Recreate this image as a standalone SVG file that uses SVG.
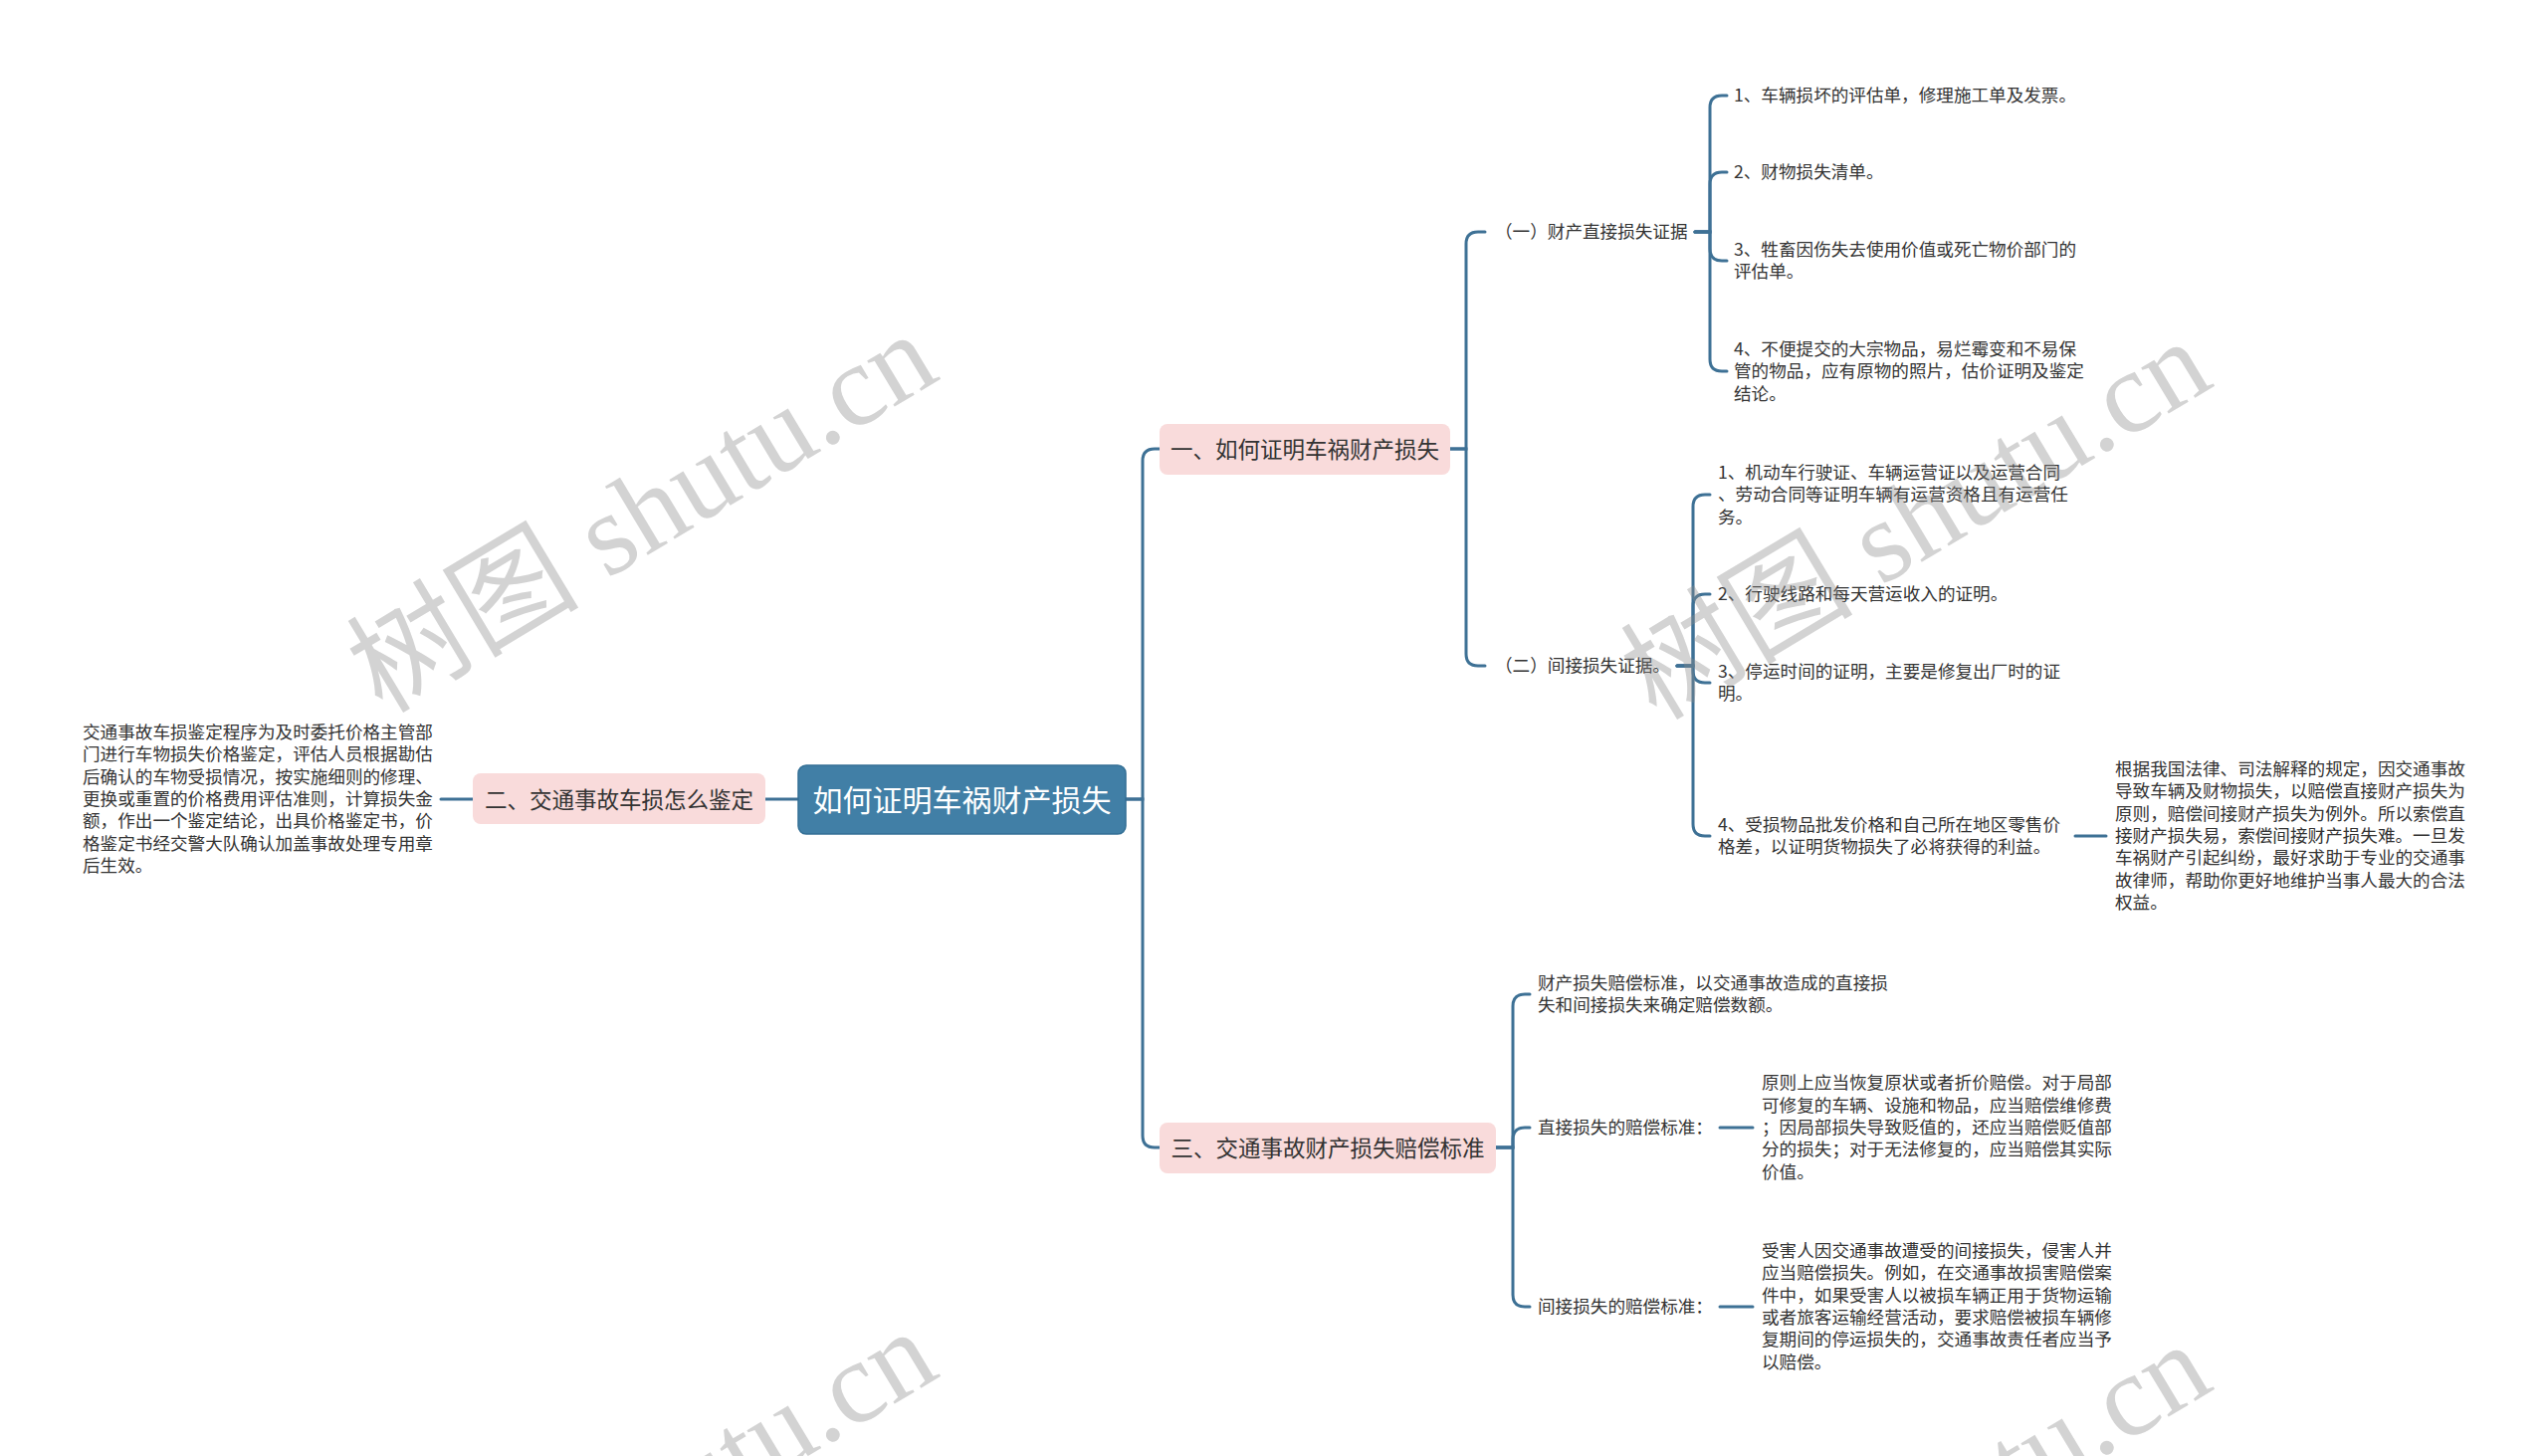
<svg xmlns="http://www.w3.org/2000/svg" width="2560" height="1463" viewBox="0 0 2560 1463">
<style>
text{font-family:"Noto Sans CJK SC","Liberation Sans",sans-serif;fill:#333;dominant-baseline:central}
.t{font-size:17.6px}
.l1{font-size:22.5px;text-anchor:middle}
.root{font-size:30px;fill:#fff;text-anchor:middle}
.pink{fill:#f9dbdb}
.conn path{fill:none;stroke:#3e7195;stroke-width:3;stroke-linecap:round}
.wm{font-family:"Liberation Serif","Noto Sans CJK SC",serif;font-size:117px;fill:#8c8c8c;fill-opacity:0.38;text-anchor:middle;dominant-baseline:central}
</style>
<rect width="2560" height="1463" fill="#fff"/>
<g class="conn" id="connectors">
<path d="M1131,803 H1148 V463 Q1148,451 1160,451 H1165"/>
<path d="M1131,803 H1148 V1141 Q1148,1153 1160,1153 H1165"/>
<path d="M802,803 H769"/>
<path d="M475,803 H443"/>
<path d="M1457,451 H1473 V245 Q1473,233 1485,233 H1492"/>
<path d="M1457,451 H1473 V657 Q1473,669 1485,669 H1492"/>
<path d="M1703,233 H1718 V108 Q1718,96 1730,96 H1735"/>
<path d="M1703,233 H1718 V185 Q1718,173 1730,173 H1735"/>
<path d="M1703,233 H1718 V250 Q1718,262 1730,262 H1735"/>
<path d="M1703,233 H1718 V361 Q1718,373 1730,373 H1735"/>
<path d="M1685,669 H1701 V509 Q1701,497 1713,497 H1718"/>
<path d="M1685,669 H1701 V609 Q1701,597 1713,597 H1718"/>
<path d="M1685,669 H1701 V674 Q1701,686 1713,686 H1718"/>
<path d="M1685,669 H1701 V828 Q1701,840 1713,840 H1718"/>
<path d="M2085,840 H2116"/>
<path d="M1503,1153 H1520 V1011 Q1520,999 1532,999 H1537"/>
<path d="M1503,1153 H1520 V1145 Q1520,1133 1532,1133 H1537"/>
<path d="M1503,1153 H1520 V1301 Q1520,1313 1532,1313 H1537"/>
<path d="M1728,1133 H1761"/>
<path d="M1728,1313 H1761"/>
</g>
<g id="root">
<rect x="802" y="769" width="329" height="69" rx="8" fill="#417fa6" stroke="#336f95" stroke-width="1.5"/>
<text class="root" x="966.5" y="802">如何证明车祸财产损失</text>
</g>
<g id="n1">
<rect class="pink" x="1165" y="426" width="292" height="51" rx="8"/>
<text class="l1" x="1311" y="450">一、如何证明车祸财产损失</text>
</g>
<g id="n2">
<rect class="pink" x="475" y="777" width="294" height="51" rx="8"/>
<text class="l1" x="622" y="802">二、交通事故车损怎么鉴定</text>
</g>
<g id="n3">
<rect class="pink" x="1165" y="1128" width="338" height="51" rx="8"/>
<text class="l1" x="1334" y="1152">三、交通事故财产损失赔偿标准</text>
</g>
<g transform="translate(0,-1.5)">
<g id="n2-text" class="t">
<text x="83" y="736">交通事故车损鉴定程序为及时委托价格主管部</text>
<text x="83" y="758">门进行车物损失价格鉴定，评估人员根据勘估</text>
<text x="83" y="781">后确认的车物受损情况，按实施细则的修理、</text>
<text x="83" y="803">更换或重置的价格费用评估准则，计算损失金</text>
<text x="83" y="825">额，作出一个鉴定结论，出具价格鉴定书，价</text>
<text x="83" y="848">格鉴定书经交警大队确认加盖事故处理专用章</text>
<text x="83" y="870">后生效。</text>
</g>
<g id="n1-1" class="t"><text x="1502" y="233">（一）财产直接损失证据</text></g>
<g id="n1-2" class="t"><text x="1502" y="669">（二）间接损失证据。</text></g>
<g id="n1-1-1" class="t"><text x="1742" y="96">1、车辆损坏的评估单，修理施工单及发票。</text></g>
<g id="n1-1-2" class="t"><text x="1742" y="173">2、财物损失清单。</text></g>
<g id="n1-1-3" class="t">
<text x="1742" y="251">3、牲畜因伤失去使用价值或死亡物价部门的</text>
<text x="1742" y="273">评估单。</text>
</g>
<g id="n1-1-4" class="t">
<text x="1742" y="351">4、不便提交的大宗物品，易烂霉变和不易保</text>
<text x="1742" y="373">管的物品，应有原物的照片，估价证明及鉴定</text>
<text x="1742" y="396">结论。</text>
</g>
<g id="n1-2-1" class="t">
<text x="1726" y="475">1、机动车行驶证、车辆运营证以及运营合同</text>
<text x="1726" y="497">、劳动合同等证明车辆有运营资格且有运营任</text>
<text x="1726" y="520">务。</text>
</g>
<g id="n1-2-2" class="t"><text x="1726" y="597">2、行驶线路和每天营运收入的证明。</text></g>
<g id="n1-2-3" class="t">
<text x="1726" y="675">3、停运时间的证明，主要是修复出厂时的证</text>
<text x="1726" y="697">明。</text>
</g>
<g id="n1-2-4" class="t">
<text x="1726" y="829">4、受损物品批发价格和自己所在地区零售价</text>
<text x="1726" y="851">格差，以证明货物损失了必将获得的利益。</text>
</g>
<g id="n1-2-4-1" class="t">
<text x="2125" y="773">根据我国法律、司法解释的规定，因交通事故</text>
<text x="2125" y="795">导致车辆及财物损失，以赔偿直接财产损失为</text>
<text x="2125" y="818">原则，赔偿间接财产损失为例外。所以索偿直</text>
<text x="2125" y="840">接财产损失易，索偿间接财产损失难。一旦发</text>
<text x="2125" y="862">车祸财产引起纠纷，最好求助于专业的交通事</text>
<text x="2125" y="885">故律师，帮助你更好地维护当事人最大的合法</text>
<text x="2125" y="907">权益。</text>
</g>
<g id="n3-1" class="t">
<text x="1545" y="988">财产损失赔偿标准，以交通事故造成的直接损</text>
<text x="1545" y="1010">失和间接损失来确定赔偿数额。</text>
</g>
<g id="n3-2" class="t"><text x="1545" y="1133">直接损失的赔偿标准：</text></g>
<g id="n3-2-1" class="t">
<text x="1770" y="1088">原则上应当恢复原状或者折价赔偿。对于局部</text>
<text x="1770" y="1111">可修复的车辆、设施和物品，应当赔偿维修费</text>
<text x="1770" y="1133">；因局部损失导致贬值的，还应当赔偿贬值部</text>
<text x="1770" y="1155">分的损失；对于无法修复的，应当赔偿其实际</text>
<text x="1770" y="1178">价值。</text>
</g>
<g id="n3-3" class="t"><text x="1545" y="1313">间接损失的赔偿标准：</text></g>
<g id="n3-3-1" class="t">
<text x="1770" y="1257">受害人因交通事故遭受的间接损失，侵害人并</text>
<text x="1770" y="1279">应当赔偿损失。例如，在交通事故损害赔偿案</text>
<text x="1770" y="1302">件中，如果受害人以被损车辆正用于货物运输</text>
<text x="1770" y="1324">或者旅客运输经营活动，要求赔偿被损车辆修</text>
<text x="1770" y="1346">复期间的停运损失的，交通事故责任者应当予</text>
<text x="1770" y="1369">以赔偿。</text>
</g>
</g>
<g id="watermarks">
<text class="wm" transform="translate(645,515) rotate(-31)">树图 shutu.cn</text>
<text class="wm" transform="translate(1925,522) rotate(-31)">树图 shutu.cn</text>
<text class="wm" transform="translate(645,1517) rotate(-31)">树图 shutu.cn</text>
<text class="wm" transform="translate(1925,1530) rotate(-31)">树图 shutu.cn</text>
</g>
</svg>
